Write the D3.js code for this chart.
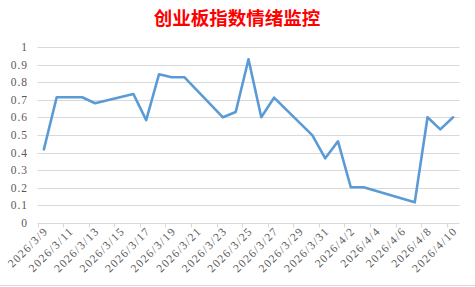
<!DOCTYPE html>
<html>
<head>
<meta charset="utf-8">
<script src="https://cdn.jsdelivr.net/npm/d3@7"></script>
<style>
  html, body { margin: 0; padding: 0; background: #fff; }
  svg { display: block; }
</style>
</head>
<body>
<svg id="chart" width="475" height="287"></svg>
<script>
const title = "创业板指数情绪监控";
const dates = ["2026/3/9","2026/3/10","2026/3/11","2026/3/12","2026/3/13","2026/3/16","2026/3/17","2026/3/18","2026/3/19","2026/3/20","2026/3/23","2026/3/24","2026/3/25","2026/3/26","2026/3/27","2026/3/30","2026/3/31","2026/4/1","2026/4/2","2026/4/3","2026/4/7","2026/4/8","2026/4/9","2026/4/10"];
const values = [0.418,0.715,0.715,0.715,0.681,0.734,0.585,0.846,0.829,0.829,0.601,0.631,0.932,0.601,0.713,0.498,0.367,0.464,0.202,0.202,0.116,0.601,0.532,0.601];
const yTicks = [0,0.1,0.2,0.3,0.4,0.5,0.6,0.7,0.8,0.9,1];
const xTickLabels = ["2026/3/9","2026/3/11","2026/3/13","2026/3/15","2026/3/17","2026/3/19","2026/3/21","2026/3/23","2026/3/25","2026/3/27","2026/3/29","2026/3/31","2026/4/2","2026/4/4","2026/4/6","2026/4/8","2026/4/10"];

const DAY = 86400000;
function parse(s) { const [y, m, d] = s.split("/").map(Number); return new Date(Date.UTC(y, m - 1, d)); }

const svg = d3.select("#chart");
const start = parse(dates[0]);
const end = new Date(parse(dates[dates.length - 1]).getTime() + DAY);

const x = d3.scaleUtc().domain([start, end]).range([37.5, 459.5]);
const y = d3.scaleLinear().domain([0, 1]).range([222.7, 47.3]);
const crisp = v => Math.round(v) + 0.5;

// Title
svg.append("text")
  .attr("x", 237).attr("y", 25)
  .attr("text-anchor", "middle")
  .attr("font-family", "'Noto Sans CJK SC', sans-serif")
  .attr("font-weight", "bold")
  .attr("font-size", 18.5)
  .attr("fill", "#FF0000")
  .text(title);

// Gridlines
svg.append("g").selectAll("line").data(yTicks.slice(1)).join("line")
  .attr("x1", 37.5).attr("x2", 459.5)
  .attr("y1", d => crisp(y(d))).attr("y2", d => crisp(y(d)))
  .attr("stroke", "#D9D9D9").attr("stroke-width", 1);

// Y labels
svg.append("g").selectAll("text").data(yTicks).join("text")
  .attr("x", 28).attr("y", d => y(d))
  .attr("dy", "0.35em")
  .attr("text-anchor", "end")
  .attr("font-family", "'Liberation Serif', serif")
  .attr("font-size", 11.5)
  .attr("letter-spacing", "1")
  .attr("fill", "#595959")
  .text(d => d);

// X axis line
svg.append("line")
  .attr("x1", 37.5).attr("x2", 459.5)
  .attr("y1", crisp(y(0))).attr("y2", crisp(y(0)))
  .attr("stroke", "#D9D9D9").attr("stroke-width", 1);

// X tick marks at label dates (slot boundaries)
const tickDates = xTickLabels.map(parse);
svg.append("g").selectAll("line").data(tickDates).join("line")
  .attr("x1", d => crisp(x(d))).attr("x2", d => crisp(x(d)))
  .attr("y1", crisp(y(0))).attr("y2", crisp(y(0)) + 4)
  .attr("stroke", "#D9D9D9").attr("stroke-width", 1);

// X labels at slot centers
svg.append("g").selectAll("text").data(xTickLabels).join("text")
  .attr("transform", d => `translate(${x(new Date(parse(d).getTime() + DAY / 2)) + 2},${229}) rotate(-45)`)
  .attr("dy", "0.35em")
  .attr("text-anchor", "end")
  .attr("font-family", "'Liberation Serif', serif")
  .attr("font-size", 11.5)
  .attr("letter-spacing", "1.3")
  .attr("fill", "#595959")
  .text(d => d);

// Line
const pts = dates.map((d, i) => ({ date: new Date(parse(d).getTime() + DAY / 2), v: values[i] }));
svg.append("path")
  .datum(pts)
  .attr("fill", "none")
  .attr("stroke", "#5B9BD5")
  .attr("stroke-width", 2.6)
  .attr("stroke-linejoin", "round")
  .attr("stroke-linecap", "round")
  .attr("d", d3.line().x(d => x(d.date)).y(d => y(d.v)));

// Worksheet grid line at the bottom edge
svg.append("line")
  .attr("x1", 0).attr("x2", 475).attr("y1", 285.5).attr("y2", 285.5)
  .attr("stroke", "#D9D9D9").attr("stroke-width", 1);
</script>
</body>
</html>
